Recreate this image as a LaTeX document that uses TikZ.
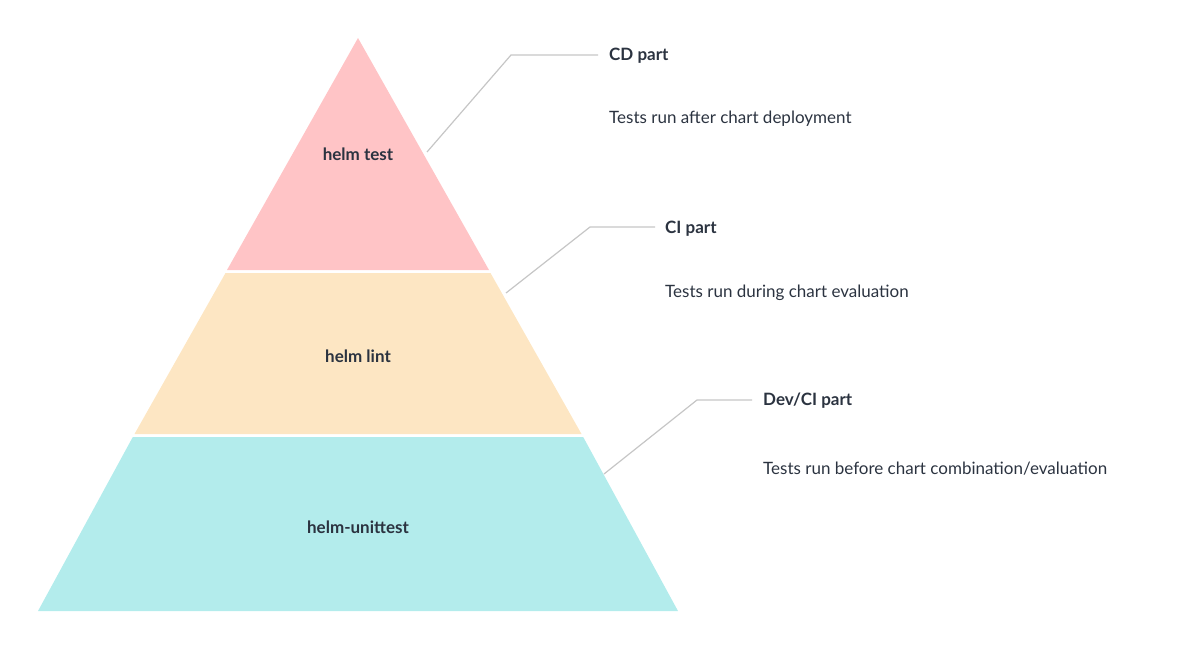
\documentclass[tikz,border=0pt]{standalone}
\usepackage{fontspec}
\setmainfont{Lato}
\begin{document}
\begin{tikzpicture}[x=1pt,y=-1pt,
  lbl/.style={font=\fontsize{17}{20}\selectfont, text=txt, anchor=west, inner sep=0},
  bold/.style={lbl, font=\fontsize{17}{20}\selectfont\bfseries},
  ctr/.style={font=\fontsize{17}{20}\selectfont\bfseries, text=txt, inner sep=0},
  lead/.style={draw=gray!45, line width=1.2pt}]
\definecolor{txt}{HTML}{2B3340}
\definecolor{pink}{HTML}{FFC4C6}
\definecolor{orng}{HTML}{FDE6C3}
\definecolor{cyn}{HTML}{B3ECEC}
\useasboundingbox (0,0) rectangle (1200,648);
\fill[pink] (358,38) -- (489,270) -- (227,270) -- cycle;
\fill[orng] (225.5,273) -- (490.5,273) -- (581.5,434) -- (134.5,434) -- cycle;
\fill[cyn] (132.8,437) -- (583.2,437) -- (678,611) -- (38,611) -- cycle;
\node[ctr] (t1) at (358,154) {helm test};
\node[ctr] (t2) at (358,356) {helm lint};
\node[ctr] (t3) at (358,527) {helm-unittest};
\coordinate (a1) at (427,152); \coordinate (b1) at (511,55); \coordinate (c1) at (598,55);
\coordinate (a2) at (506,293); \coordinate (b2) at (590,227); \coordinate (c2) at (655,227);
\coordinate (a3) at (604,474); \coordinate (b3) at (697,400); \coordinate (c3) at (752,400);
\draw[lead] (a1) -- (b1) -- (c1);
\draw[lead] (a2) -- (b2) -- (c2);
\draw[lead] (a3) -- (b3) -- (c3);
\node[bold] (h1) at (609,56) {CD part};
\node[lbl] (d1) at (609,119) {Tests run after chart deployment};
\node[bold] (h2) at (665,229) {CI part};
\node[lbl] (d2) at (665,293) {Tests run during chart evaluation};
\node[bold] (h3) at (763,401) {Dev/CI part};
\node[lbl] (d3) at (763,469) {Tests run before chart combination/evaluation};
\end{tikzpicture}
\end{document}
